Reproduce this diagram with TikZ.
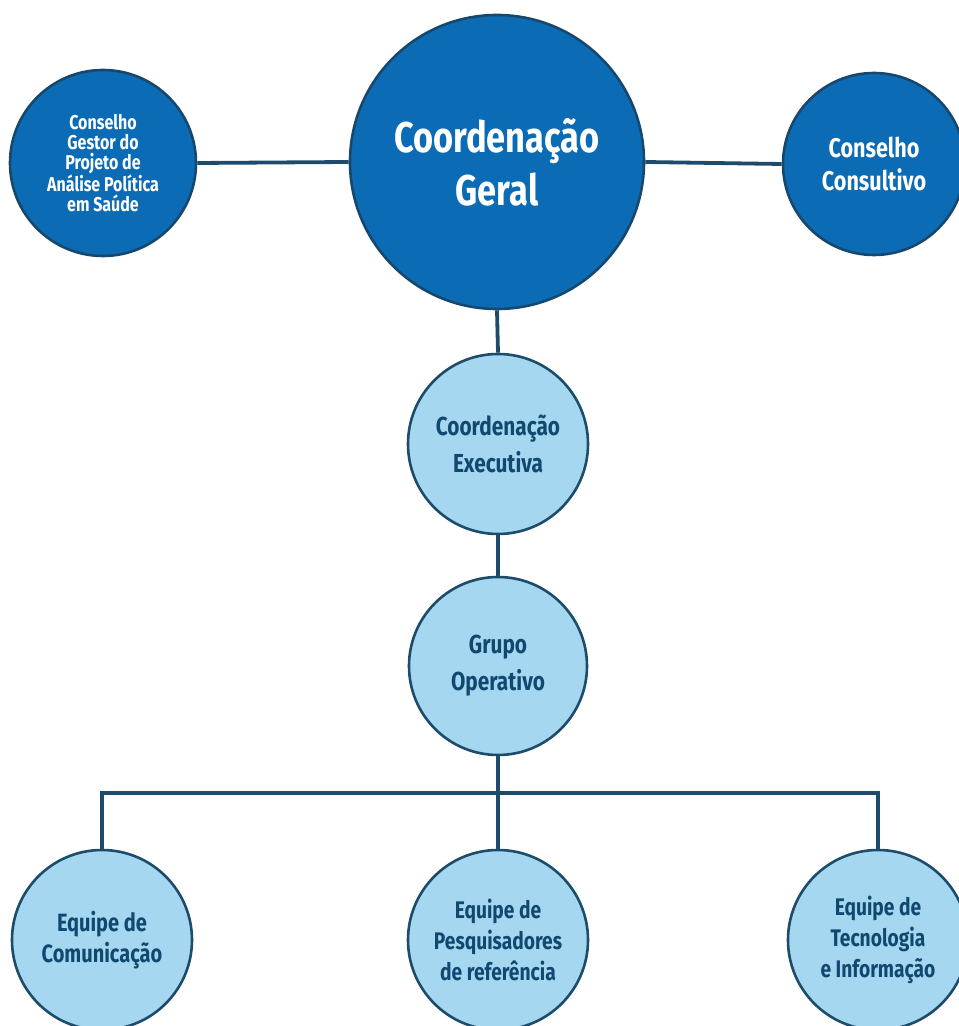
\documentclass[tikz,border=0pt]{standalone}
\usepackage{fontspec}
\newfontfamily\orgfont{Fira Sans}[FakeStretch=0.8]
\begin{document}
\begin{tikzpicture}[x=1pt,y=1pt,line width=0.4pt]
\definecolor{orgdark}{RGB}{11,108,181}
\definecolor{orgedge}{RGB}{22,72,110}
\definecolor{orglight}{RGB}{166,215,240}
\definecolor{orgink}{RGB}{16,72,112}
\definecolor{orgline}{RGB}{28,76,106}
\tikzset{topcirc/.style={circle,draw=orgedge,line width=2.6pt,fill=orgdark,text=white,inner sep=0pt,align=center,font=\orgfont\bfseries},
lowcirc/.style={circle,draw=orgline,line width=2.6pt,fill=orglight,text=orgink,inner sep=0pt,align=center,font=\orgfont\bfseries},
link/.style={draw=orgline,line width=3.8pt}}
\useasboundingbox (0,0) rectangle (959,1026);
\clip (0,0) rectangle (959,1026);
% upper row
\node[topcirc,minimum size=294pt,font=\orgfont\bfseries\fontsize{43}{53}\selectfont] (geral) at (497,864) {Coordenação\\Geral};
\node[topcirc,minimum size=186pt,font=\orgfont\bfseries\fontsize{20}{20}\selectfont] (gestor) at (103,863) {Conselho\\Gestor do\\Projeto de\\Análise Política\\em Saúde};
\node[topcirc,minimum size=182pt,font=\orgfont\bfseries\fontsize{27}{33}\selectfont] (consult) at (874,862) {Conselho\\Consultivo};
% middle column
\node[lowcirc,minimum size=180pt,font=\orgfont\bfseries\fontsize{26}{37}\selectfont] (exec) at (498,582) {Coordenação\\Executiva};
\node[lowcirc,minimum size=178pt,font=\orgfont\bfseries\fontsize{26}{37}\selectfont] (grupo) at (498,360) {Grupo\\Operativo};
% teams
\node[lowcirc,minimum size=180pt,font=\orgfont\bfseries\fontsize{25}{31}\selectfont] (comunic) at (102,86) {Equipe de\\Comunicação};
\node[lowcirc,minimum size=180pt,font=\orgfont\bfseries\fontsize{24}{31}\selectfont] (pesq) at (498,86) {Equipe de\\Pesquisadores\\de referência};
\node[lowcirc,minimum size=180pt,font=\orgfont\bfseries\fontsize{24}{31}\selectfont] (tecno) at (878,86) {Equipe de\\Tecnologia\\e Informação};
\coordinate (bus) at (498,233);
% connectors
\draw[link] (gestor.east) -- (geral.west);
\draw[link] (geral.east) -- (consult.west);
\draw[link] (geral.south) -- (exec.north);
\draw[link] (exec.south) -- (grupo.north);
\draw[link] (grupo.south) -- (pesq.north);
\draw[link] (comunic.north) -- (comunic.north |- bus) -- (tecno.north |- bus) -- (tecno.north);
\end{tikzpicture}
\end{document}
